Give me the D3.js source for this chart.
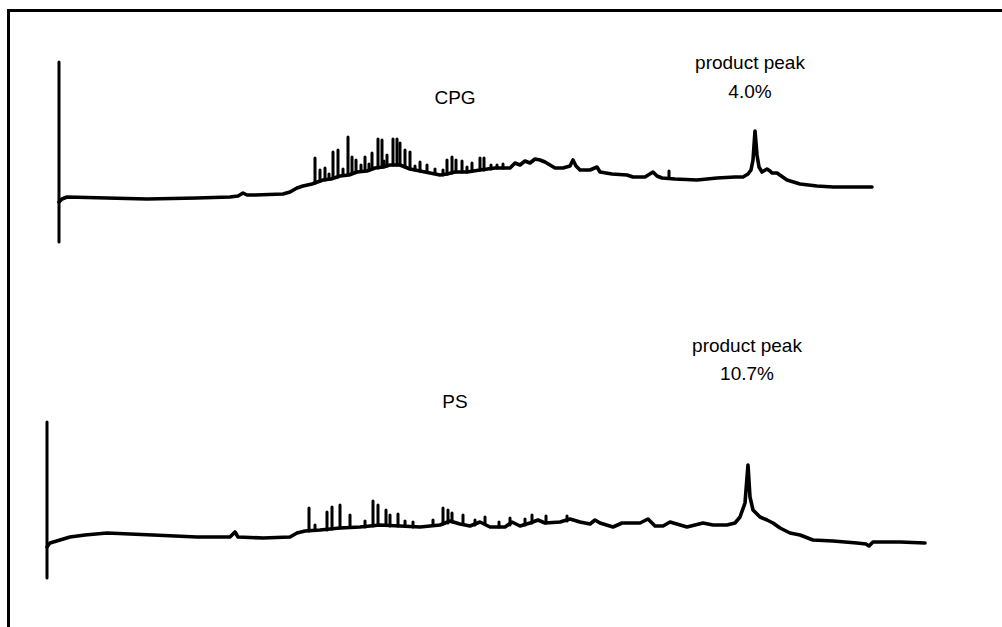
<!DOCTYPE html>
<html>
<head>
<meta charset="utf-8">
<script src="https://cdn.jsdelivr.net/npm/d3@7"></script>
<style>
  html, body { margin: 0; padding: 0; background: #fff; }
  svg { display: block; }
  text { font-family: "Liberation Sans", Arial, Helvetica, sans-serif; fill: #000; }
</style>
</head>
<body>
<svg id="chart" width="1002" height="627"></svg>
<script>
// ---------- DATA (retention time in min, detector signal in relative units) ----------
const cpgTime = [0,0.15,0.4,2.4,4.4,6.9,8.55,8.95,9.2,9.4,9.8,11.2,11.55,11.9,12.2,12.65,13.2,13.6,14.05,14.5,14.9,15.4,15.8,16.2,16.55,17.05,17.55,18.05,18.55,19.05,19.4,19.8,20.4,21.05,21.8,22.55,22.8,23.05,23.3,23.55,23.8,24.05,24.3,24.55,24.8,25.2,25.55,25.7,25.85,26.05,26.55,26.9,27.05,27.65,28.4,28.7,29.3,29.7,29.9,30.15,30.8,31.9,32.9,33.8,34.2,34.45,34.6,34.7,34.8,34.9,35.0,35.15,35.4,35.55,35.65,35.9,36.4,37.05,37.9,38.7,40.65];
const cpgSignal = [-2,1,3,2,1,2,3,4,7,5,5,6,8,12,14,16,20,21,24,25,28,29,32,33,35,35,31,29,27,25,26,28,28,30,32,32,37,35,39,37,41,40,38,35,32,32,34,40,34,30,30,33,28,26,25,23,23,28,24,22,21,20,22,23,23,26,30,40,69,45,33,28,31,29,27,27,20,16,14,13,13];

const cpgSpikeTime = [12.8,13.05,13.3,13.5,13.7,13.95,14.2,14.45,14.65,14.85,15.1,15.3,15.5,15.65,15.95,16.15,16.25,16.4,16.7,16.9,17.05,17.3,17.55,17.8,18.05,18.4,18.8,19.2,19.4,19.65,19.85,20.15,20.4,20.65,21.05,21.25,21.6,21.9,22.2,30.5];
const cpgSpikeBase = [17,19,20,21,22,23,25,26,27,28,29,30,31,31,32,33,33,34,35,35,35,33,31,30,29,28,27,25,26,27,28,28,28,29,30,30,31,32,32,22];
const cpgSpikeTop  = [42,30,32,26,48,50,31,63,43,40,35,43,36,47,61,60,39,45,61,61,57,50,48,34,38,35,31,30,40,43,40,39,33,37,42,42,35,35,36,29];

const psTime = [0,0.15,0.65,1.15,1.9,3.0,5.3,7.5,9.15,9.4,9.55,10.8,12.15,12.5,12.9,13.65,14.65,15.65,16.65,17.65,18.65,19.65,20.15,20.65,21.15,21.65,22.15,22.9,23.25,23.65,24.15,24.55,24.9,25.65,26.15,26.65,27.15,27.4,27.65,28.3,28.75,29.65,30.05,30.4,30.8,31.15,32.0,32.8,33.3,34.0,34.4,34.65,34.9,35.05,35.15,35.3,35.65,36.0,36.3,36.65,37.15,37.65,38.3,39.3,40.5,40.95,41.1,41.3,42.65,43.9];
const psSignal = [-2,2,5,8,10,12,10,8,8,13,8,7,8,12,14,15,17,18,20,19,18,20,24,21,19,23,18,18,23,19,22,25,22,23,26,23,21,25,22,18,22,22,26,19,19,23,18,22,20,20,22,28,42,80,48,35,28,25,22,17,12,10,5,4,2,1,-1,3,3,2];

const psSpikeTime = [13.1,13.4,14.0,14.25,14.65,15.15,15.9,16.3,16.55,16.95,17.15,17.55,17.9,18.3,19.3,19.8,20.05,20.25,20.8,21.4,21.9,22.6,23.15,23.9,24.25,24.95,26.0];
const psSpikeBase = [14,15,15,16,17,18,18,19,20,20,19,19,19,18,20,21,22,23,21,20,21,18,20,20,22,22,24];
const psSpikeTop  = [37,20,33,38,40,30,24,44,40,35,30,31,24,23,25,37,35,32,30,25,28,23,27,26,30,29,29];

const panelLabels = ["CPG", "PS"];
const peakLabels = ["product peak", "product peak"];
const peakValues = ["4.0%", "10.7%"];
const axisSignalRange = [[-42, 138], [-33, 123]];

// ---------- DRAW ----------
const svg = d3.select("#chart");

// frame
svg.append("rect")
  .attr("x", 8.5).attr("y", 10.5)
  .attr("width", 1200).attr("height", 1000)
  .attr("fill", "none").attr("stroke", "#000").attr("stroke-width", 3);

const panels = [
  { time: cpgTime, signal: cpgSignal, st: cpgSpikeTime, sb: cpgSpikeBase, stop: cpgSpikeTop,
    x: d3.scaleLinear().domain([0, 40]).range([59, 859]),
    y: d3.scaleLinear().domain([0, 100]).range([200, 100]),
    label: { x: 455, y: 104 }, peak: { x: 750, y1: 69, y2: 98 } },
  { time: psTime, signal: psSignal, st: psSpikeTime, sb: psSpikeBase, stop: psSpikeTop,
    x: d3.scaleLinear().domain([0, 40]).range([47, 847]),
    y: d3.scaleLinear().domain([0, 100]).range([545, 445]),
    label: { x: 455, y: 408 }, peak: { x: 747, y1: 352, y2: 380 } }
];

panels.forEach((p, i) => {
  const g = svg.append("g");
  // vertical signal axis (injection marker)
  g.append("line")
    .attr("x1", p.x(0)).attr("x2", p.x(0))
    .attr("y1", p.y(axisSignalRange[i][0])).attr("y2", p.y(axisSignalRange[i][1]))
    .attr("stroke", "#000").attr("stroke-width", 3).attr("stroke-linecap", "round");

  const pts = p.time.map((t, k) => [t, p.signal[k]]);
  const line = d3.line().x(d => p.x(d[0])).y(d => p.y(d[1])).curve(d3.curveLinear);
  g.append("path").datum(pts)
    .attr("d", line)
    .attr("fill", "none").attr("stroke", "#000").attr("stroke-width", 3.6)
    .attr("stroke-linejoin", "round").attr("stroke-linecap", "round");

  // sharp spikes
  g.selectAll("line.spike").data(p.st.map((t, k) => ({ t, b: p.sb[k], top: p.stop[k] })))
    .enter().append("line").attr("class", "spike")
    .attr("x1", d => p.x(d.t)).attr("x2", d => p.x(d.t))
    .attr("y1", d => p.y(d.b)).attr("y2", d => p.y(d.top))
    .attr("stroke", "#000").attr("stroke-width", 3).attr("stroke-linecap", "round");

  // labels
  g.append("text").attr("x", p.label.x).attr("y", p.label.y)
    .attr("text-anchor", "middle").attr("font-size", 19).text(panelLabels[i]);
  g.append("text").attr("x", p.peak.x).attr("y", p.peak.y1)
    .attr("text-anchor", "middle").attr("font-size", 19).text(peakLabels[i]);
  g.append("text").attr("x", p.peak.x).attr("y", p.peak.y2)
    .attr("text-anchor", "middle").attr("font-size", 19).text(peakValues[i]);
});
</script>
</body>
</html>
